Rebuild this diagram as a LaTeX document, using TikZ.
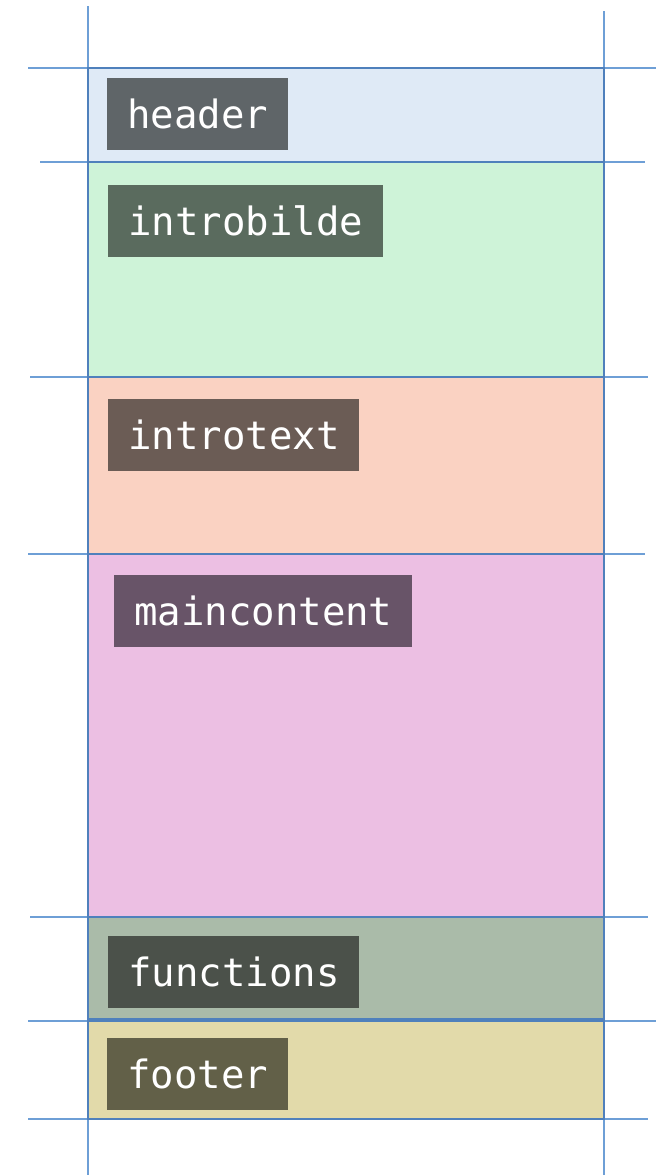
\documentclass[tikz,border=0pt]{standalone}
\usepackage{fontspec}
\newfontfamily\labelfont{DejaVu Sans Mono}
\definecolor{guide}{HTML}{6E9FD6}
\definecolor{frame}{HTML}{4F80BC}
\definecolor{cHead}{HTML}{DFEAF6}
\definecolor{cBild}{HTML}{CEF3D8}
\definecolor{cText}{HTML}{FAD2C2}
\definecolor{cMain}{HTML}{ECBFE3}
\definecolor{cFunc}{HTML}{AABBA9}
\definecolor{cFoot}{HTML}{E2DAAA}
\definecolor{lHead}{HTML}{5F6568}
\definecolor{lBild}{HTML}{5A6B5E}
\definecolor{lText}{HTML}{6B5C55}
\definecolor{lMain}{HTML}{685468}
\definecolor{lFunc}{HTML}{4B514A}
\definecolor{lFoot}{HTML}{626048}
\begin{document}
\begin{tikzpicture}[x=1pt,y=-1pt,
  guideline/.style={draw=guide,line width=1.2pt},
  region/.style={draw=frame,line width=2.2pt},
  tag/.style={anchor=north west,inner xsep=20pt,inner ysep=0pt,minimum height=72pt,
    text=white,font=\labelfont\fontsize{39}{39}\selectfont}]
\useasboundingbox (0,0) rectangle (656,1175);
% guides
\draw[guideline] (88,6) -- (88,1175);
\draw[guideline] (604,11) -- (604,1175);
\draw[guideline] (28,68) -- (656,68);
\draw[guideline] (40,162) -- (645,162);
\draw[guideline] (30,377) -- (648,377);
\draw[guideline] (28,554) -- (645,554);
\draw[guideline] (30,917) -- (648,917);
\draw[guideline] (28,1021) -- (656,1021);
\draw[guideline] (28,1119) -- (648,1119);
% regions
\path[region,fill=cHead] (88,68) rectangle (604,162);
\path[region,fill=cBild] (88,162) rectangle (604,377);
\path[region,fill=cText] (88,377) rectangle (604,554);
\path[region,fill=cMain] (88,554) rectangle (604,917);
\path[region,fill=cFunc] (88,917) rectangle (604,1019);
\path[region,fill=cFoot] (88,1021) rectangle (604,1119);
% labels
\node[tag,fill=lHead,text width=141pt] (header) at (107,78) {header};
\node[tag,fill=lBild,text width=235pt] (introbilde) at (108,185) {introbilde};
\node[tag,fill=lText,text width=211pt] (introtext) at (108,399) {introtext};
\node[tag,fill=lMain,text width=258pt] (maincontent) at (114,575) {maincontent};
\node[tag,fill=lFunc,text width=211pt] (functions) at (108,936) {functions};
\node[tag,fill=lFoot,text width=141pt] (footer) at (107,1038) {footer};
\end{tikzpicture}
\end{document}
